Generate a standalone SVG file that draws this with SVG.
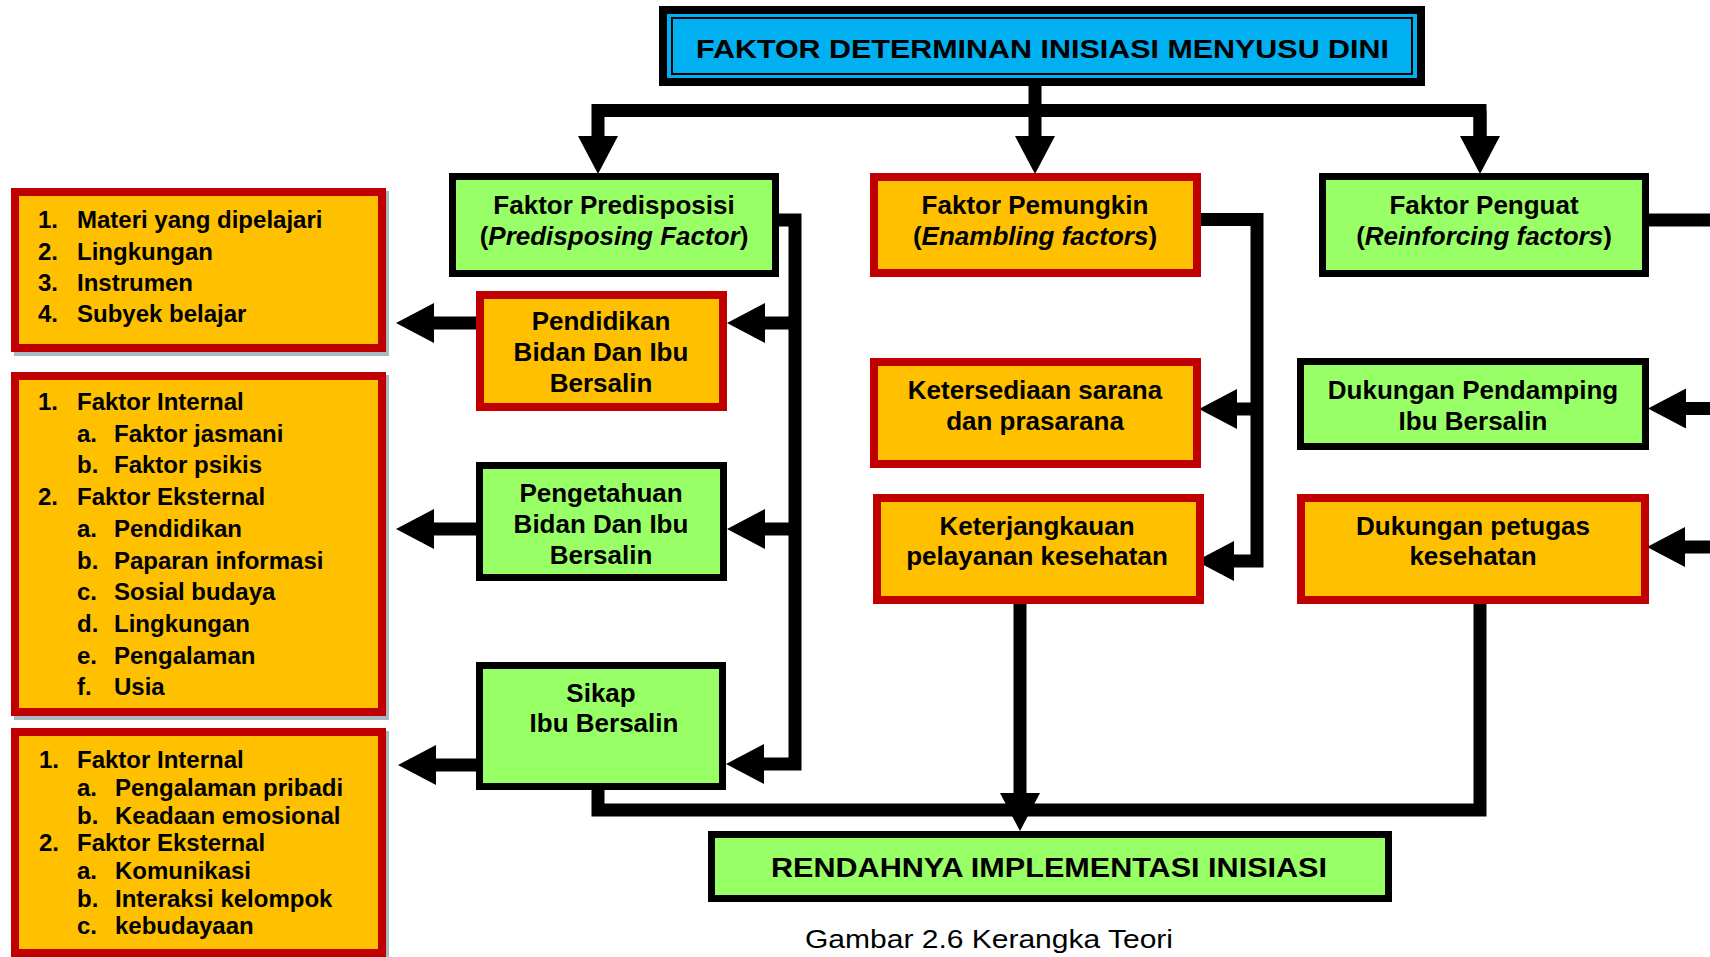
<svg xmlns="http://www.w3.org/2000/svg" width="1710" height="957" viewBox="0 0 1710 957">
<defs>
<style>
.g{fill:#99ff66;stroke:#000;stroke-width:7}
.o{fill:#ffc000;stroke:#c00000;stroke-width:8}
.sh{fill:#a7b9c3}
.t{font-family:"Liberation Sans",Arial,sans-serif;font-weight:bold;font-size:26px;text-anchor:middle;fill:#000}
.l{font-family:"Liberation Sans",Arial,sans-serif;font-weight:bold;font-size:24px;fill:#000}
.c{fill:none;stroke:#000;stroke-width:13;stroke-linejoin:miter}
.a{marker-end:url(#ah)}
</style>
<marker id="ah" markerUnits="userSpaceOnUse" markerWidth="38" markerHeight="40" viewBox="0 0 38 40" refX="0" refY="20" orient="auto" overflow="visible"><path d="M0,0 L38,20 L0,40 z" fill="#000"/></marker>
</defs>
<rect width="1710" height="957" fill="#fff"/>

<g id="connectors">
<path class="c a" d="M1035,86 V136"/>
<path class="c a" d="M1480,136 V110.5 H598 V136"/>
<path class="c a" d="M1480,110.5 V136"/>
<path class="c a" d="M779,220 H795 V764 H764"/>
<path class="c a" d="M795,323 H765"/>
<path class="c a" d="M795,529 H765"/>
<path class="c a" d="M476,323 H434"/>
<path class="c a" d="M476,529 H434"/>
<path class="c a" d="M476,765 H436"/>
<path class="c" d="M598,790 V810 H1480 V604"/>
<path class="c a" d="M1020,604 V793"/>
<path class="c a" d="M1201,219.5 H1257 V561 H1234"/>
<path class="c a" d="M1257,409 H1237"/>
<path class="c" d="M1649,220 H1715"/>
<path class="c a" d="M1715,408.5 H1686"/>
<path class="c a" d="M1715,547 H1685"/>
</g>

<g id="title">
<rect x="659" y="6" width="766" height="80" fill="#000"/>
<rect x="667" y="14" width="750" height="64" fill="#00b0f0"/>
<rect x="672" y="18" width="740" height="56" fill="none" stroke="#000" stroke-width="2"/>
<text class="t" x="696" y="58" style="font-size:25.5px;text-anchor:start" textLength="693" lengthAdjust="spacingAndGlyphs">FAKTOR DETERMINAN INISIASI MENYUSU DINI</text>
</g>

<g id="predisposisi">
<rect class="g" x="452.5" y="176.5" width="323" height="97"/>
<text class="t" x="614" y="214">Faktor Predisposisi</text>
<text class="t" x="614" y="245">(<tspan font-style="italic">Predisposing Factor</tspan>)</text>
</g>

<g id="pemungkin">
<rect class="o" x="874" y="177" width="323" height="96"/>
<text class="t" x="1035" y="214">Faktor Pemungkin</text>
<text class="t" x="1035" y="245">(<tspan font-style="italic">Enambling factors</tspan>)</text>
</g>

<g id="penguat">
<rect class="g" x="1322.5" y="176.5" width="323" height="97"/>
<text class="t" x="1484" y="214">Faktor Penguat</text>
<text class="t" x="1484" y="245">(<tspan font-style="italic">Reinforcing factors</tspan>)</text>
</g>

<g id="pendidikan">
<rect class="o" x="480" y="295" width="243" height="112"/>
<text class="t" x="601" y="330">Pendidikan</text>
<text class="t" x="601" y="361">Bidan Dan Ibu</text>
<text class="t" x="601" y="392">Bersalin</text>
</g>

<g id="pengetahuan">
<rect class="g" x="479.5" y="465.5" width="244" height="112"/>
<text class="t" x="601" y="502">Pengetahuan</text>
<text class="t" x="601" y="533">Bidan Dan Ibu</text>
<text class="t" x="601" y="564">Bersalin</text>
</g>

<g id="sikap">
<rect class="g" x="479.5" y="665.5" width="243" height="121"/>
<text class="t" x="601" y="702">Sikap</text>
<text class="t" x="604" y="732">Ibu Bersalin</text>
</g>

<g id="ketersediaan">
<rect class="o" x="874" y="362" width="323" height="102"/>
<text class="t" x="1035" y="399">Ketersediaan sarana</text>
<text class="t" x="1035" y="430">dan prasarana</text>
</g>

<g id="keterjangkauan">
<rect class="o" x="877" y="498" width="323" height="102"/>
<text class="t" x="1037" y="535">Keterjangkauan</text>
<text class="t" x="1037" y="565">pelayanan kesehatan</text>
</g>

<g id="pendamping">
<rect class="g" x="1300.5" y="361.5" width="345" height="85"/>
<text class="t" x="1473" y="399">Dukungan Pendamping</text>
<text class="t" x="1473" y="430">Ibu Bersalin</text>
</g>

<g id="petugas">
<rect class="o" x="1301" y="498" width="344" height="102"/>
<text class="t" x="1473" y="535">Dukungan petugas</text>
<text class="t" x="1473" y="565">kesehatan</text>
</g>

<g id="rendahnya">
<rect class="g" x="711.5" y="834.5" width="677" height="64"/>
<text class="t" x="771" y="877" style="font-size:27px;text-anchor:start" textLength="556" lengthAdjust="spacingAndGlyphs">RENDAHNYA IMPLEMENTASI INISIASI</text>
</g>

<g id="list-pendidikan">
<rect class="sh" x="14" y="191" width="375" height="165"/>
<rect class="o" x="15" y="192" width="367" height="156"/>
<text class="l" x="38" y="228">1.</text><text class="l" x="77" y="228">Materi yang dipelajari</text>
<text class="l" x="38" y="259.5">2.</text><text class="l" x="77" y="259.5">Lingkungan</text>
<text class="l" x="38" y="291">3.</text><text class="l" x="77" y="291">Instrumen</text>
<text class="l" x="38" y="322">4.</text><text class="l" x="77" y="322">Subyek belajar</text>
</g>

<g id="list-pengetahuan">
<rect class="sh" x="14" y="375" width="375" height="345"/>
<rect class="o" x="15" y="376" width="367" height="336"/>
<text class="l" x="38" y="410">1.</text><text class="l" x="77" y="410">Faktor Internal</text>
<text class="l" x="77" y="441.7">a.</text><text class="l" x="114" y="441.7">Faktor jasmani</text>
<text class="l" x="77" y="473.4">b.</text><text class="l" x="114" y="473.4">Faktor psikis</text>
<text class="l" x="38" y="505.1">2.</text><text class="l" x="77" y="505.1">Faktor Eksternal</text>
<text class="l" x="77" y="536.8">a.</text><text class="l" x="114" y="536.8">Pendidikan</text>
<text class="l" x="77" y="568.5">b.</text><text class="l" x="114" y="568.5">Paparan informasi</text>
<text class="l" x="77" y="600.2">c.</text><text class="l" x="114" y="600.2">Sosial budaya</text>
<text class="l" x="77" y="631.9">d.</text><text class="l" x="114" y="631.9">Lingkungan</text>
<text class="l" x="77" y="663.6">e.</text><text class="l" x="114" y="663.6">Pengalaman</text>
<text class="l" x="77" y="695.3">f.</text><text class="l" x="114" y="695.3">Usia</text>
</g>

<g id="list-sikap">
<rect class="sh" x="14" y="731" width="375" height="230"/>
<rect class="o" x="15" y="732" width="367" height="221"/>
<text class="l" x="39" y="768">1.</text><text class="l" x="77" y="768">Faktor Internal</text>
<text class="l" x="77" y="796">a.</text><text class="l" x="115" y="796">Pengalaman pribadi</text>
<text class="l" x="77" y="824">b.</text><text class="l" x="115" y="824">Keadaan emosional</text>
<text class="l" x="39" y="851">2.</text><text class="l" x="77" y="851">Faktor Eksternal</text>
<text class="l" x="77" y="879">a.</text><text class="l" x="115" y="879">Komunikasi</text>
<text class="l" x="77" y="907">b.</text><text class="l" x="115" y="907">Interaksi kelompok</text>
<text class="l" x="77" y="934">c.</text><text class="l" x="115" y="934">kebudayaan</text>
</g>

<text x="805" y="948" textLength="368" lengthAdjust="spacingAndGlyphs" style="font-family:'Liberation Sans',Arial,sans-serif;font-size:26px;fill:#000">Gambar 2.6 Kerangka Teori</text>
</svg>
